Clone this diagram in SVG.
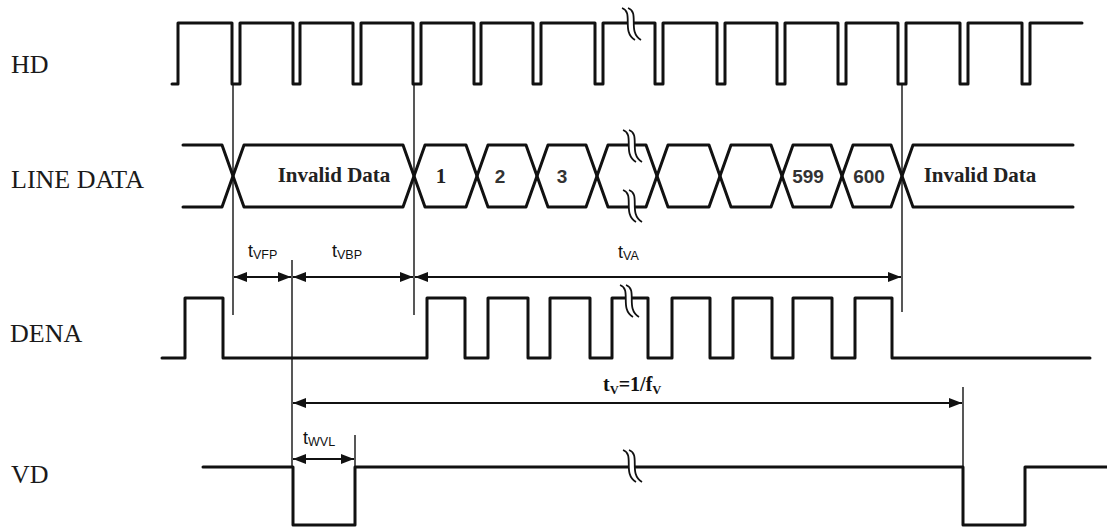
<svg xmlns="http://www.w3.org/2000/svg" width="1107" height="527" viewBox="0 0 1107 527">
<style>
.lbl{font-family:"Liberation Serif","Times New Roman",serif;font-size:26px;fill:#1a1a1a}
.dat{font-family:"Liberation Serif","Times New Roman",serif;font-size:21px;font-weight:bold;fill:#222}
.num{font-family:"Liberation Sans",Arial,sans-serif;font-size:19px;font-weight:bold;fill:#333}
.tm{font-family:"Liberation Sans",Arial,sans-serif;font-size:18px;fill:#111}
.tms{font-size:12.5px}
.tv{font-family:"Liberation Serif","Times New Roman",serif;font-size:20px;font-weight:bold;fill:#111}
.wave{fill:none;stroke:#111;stroke-width:3;stroke-linejoin:round;stroke-linecap:round}
.thin{fill:none;stroke:#111;stroke-width:1.4}
.dim{fill:none;stroke:#111;stroke-width:1.8;marker-start:url(#ah);marker-end:url(#ah)}
.dimr{fill:none;stroke:#111;stroke-width:1.8;marker-end:url(#ah)}
.dimc{fill:none;stroke:#111;stroke-width:1.8;marker-start:url(#ah)}
.brkfill{fill:#fff;stroke:none}
.brkline{fill:none;stroke:#111;stroke-width:1.8}
</style>
<defs>
<marker id="ah" markerUnits="userSpaceOnUse" markerWidth="14" markerHeight="10" refX="13" refY="5" orient="auto-start-reverse">
<path d="M0,0 L13,5 L0,10 Z" fill="#111"/>
</marker>
<g id="brk">
<path class="brkfill" d="M-10,-16 C2,-12 -11,8 3,16 L9,16 C-5,8 8,-12 -4,-16 Z"/>
<path class="brkline" d="M-10,-16 C2,-12 -11,8 3,16"/>
<path class="brkline" d="M-4,-16 C8,-12 -5,8 9,16"/>
</g>
</defs>
<rect width="1107" height="527" fill="#fff"/>

<g id="connectors">
<line class="thin" x1="233" y1="84" x2="233" y2="315"/>
<line class="thin" x1="414" y1="84" x2="414" y2="315"/>
<line class="thin" x1="902" y1="84" x2="902" y2="312"/>
<line class="thin" x1="292" y1="260" x2="292" y2="467"/>
<line class="thin" x1="355" y1="435" x2="355" y2="467"/>
<line class="thin" x1="963" y1="387" x2="963" y2="467"/>
<line class="dim" x1="234" y1="277" x2="291" y2="277"/>
<line class="dim" x1="293" y1="277" x2="413" y2="277"/>
<line class="dimr" x1="415" y1="277" x2="901" y2="277"/>
<line class="dimc" x1="415" y1="277" x2="430" y2="277"/>
<line class="dim" x1="293" y1="403" x2="962" y2="403"/>
<line class="dim" x1="293" y1="459" x2="354" y2="459"/>
</g>

<g id="hd">
<text class="lbl" x="11" y="73">HD</text>
<path class="wave" d="M172,84 H178 V23 H232 V84 H240 V23 H293 V84 H300 V23 H353 V84 H361 V23 H413 V84 H421 V23 H474 V84 H481 V23 H533 V84 H541 V23 H595 V84 H603 V23 H655 V84 H663 V23 H717 V84 H725 V23 H777 V84 H785 V23 H838 V84 H846 V23 H898 V84 H906 V23 H960 V84 H968 V23 H1022 V84 H1030 V23 H1082"/>
<use href="#brk" x="632" y="24"/>
</g>

<g id="line-data">
<text class="lbl" x="11" y="188">LINE DATA</text>
<path class="wave" d="M183,145 H222 L244,207 H403 L425,145 H466 L488,207 H526 L548,145 H586 L608,207 H646 L668,145 H709 L731,207 H771 L793,145 H831 L853,207 H891 L913,145 H1073"/>
<path class="wave" d="M183,207 H222 L244,145 H403 L425,207 H466 L488,145 H526 L548,207 H586 L608,145 H646 L668,207 H709 L731,145 H771 L793,207 H831 L853,145 H891 L913,207 H1073"/>
<use href="#brk" x="633" y="146"/>
<use href="#brk" x="633" y="206"/>
<text class="dat" x="334" y="182" text-anchor="middle">Invalid Data</text>
<text class="dat" x="441" y="183" text-anchor="middle">1</text>
<text class="num" x="500" y="183" text-anchor="middle">2</text>
<text class="num" x="562" y="183" text-anchor="middle">3</text>
<text class="num" x="808" y="183" text-anchor="middle">599</text>
<text class="num" x="869" y="183" text-anchor="middle">600</text>
<text class="dat" x="980" y="182" text-anchor="middle">Invalid Data</text>
</g>

<g id="timing-labels">
<text class="tm" x="248" y="257">t<tspan class="tms" dy="2">VFP</tspan></text>
<text class="tm" x="332" y="257">t<tspan class="tms" dy="2">VBP</tspan></text>
<text class="tm" x="618" y="258">t<tspan class="tms" dy="2">VA</tspan></text>
<text class="tv" x="603" y="391">t<tspan class="tms" dy="3">V</tspan><tspan dy="-3">=1/f</tspan><tspan class="tms" dy="3">V</tspan></text>
<text class="tm" x="303" y="444">t<tspan class="tms" dy="2">WVL</tspan></text>
</g>

<g id="dena">
<text class="lbl" x="10" y="342">DENA</text>
<path class="wave" d="M162,358 H185 V298 H223 V358 H427 V298 H465 V358 H488 V298 H528 V358 H550 V298 H590 V358 H612 V298 H648 V358 H672 V298 H710 V358 H733 V298 H772 V358 H793 V298 H832 V358 H855 V298 H892 V358 H1090"/>
<use href="#brk" x="630" y="301"/>
</g>

<g id="vd">
<text class="lbl" x="11" y="483">VD</text>
<path class="wave" d="M203,467 H293 V525 H355 V467 H963 V525 H1025 V467 H1107"/>
<use href="#brk" x="633" y="466"/>
</g>
</svg>
